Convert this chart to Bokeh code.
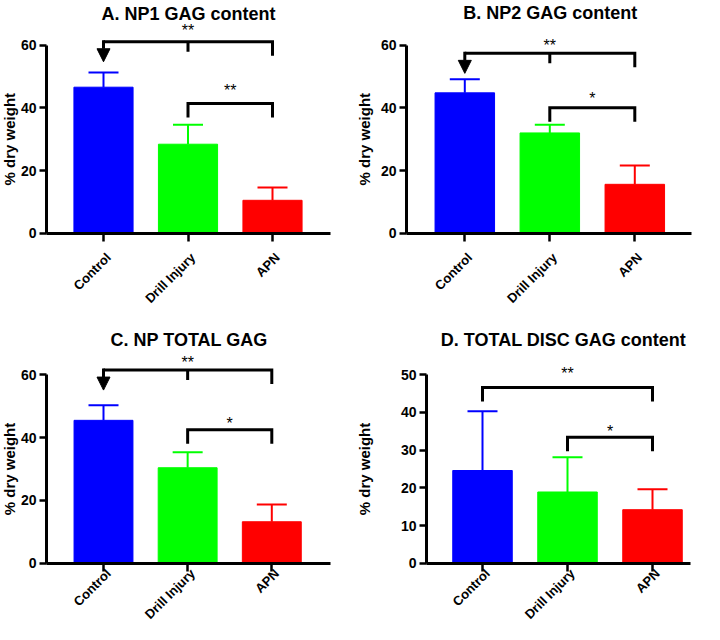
import math
from bokeh.plotting import figure
from bokeh.layouts import column, row
from bokeh.models import Range1d, FixedTicker, Arrow, NormalHead
from bokeh.embed import file_html
from bokeh.resources import INLINE
from bokeh.core.properties import value

FONT = "Liberation Sans"

# ---------------- data ----------------
categories = ["Control", "Drill Injury", "APN"]
bar_colors = ["#0000FF", "#00FF00", "#FF0000"]

titles = ["A. NP1 GAG content", "B. NP2 GAG content",
          "C. NP TOTAL GAG", "D. TOTAL DISC GAG content"]
y_label = "% dry weight"

np1_mean = [46.6, 28.4, 10.5]
np1_sd = [4.7, 6.2, 4.1]
np2_mean = [44.8, 32.0, 15.6]
np2_sd = [4.3, 2.6, 6.0]
nptotal_mean = [45.5, 30.4, 13.2]
nptotal_sd = [4.8, 4.9, 5.5]
disc_mean = [24.6, 18.9, 14.2]
disc_sd = [15.7, 9.2, 5.4]

y_axis_max = [60, 60, 60, 50]
y_tick_step = [20, 20, 20, 10]

# significance brackets: (from group, to group, bracket level, star level, label)
brackets_A = [(0, 2, 61.1, 67.5, "**"), (1, 2, 41.4, 48.4, "**")]
brackets_B = [(0, 2, 57.4, 62.7, "**"), (1, 2, 40.0, 46.0, "*")]
brackets_C = [(0, 2, 61.5, 66.8, "**"), (1, 2, 42.5, 47.3, "*")]
brackets_D = [(0, 2, 46.6, 52.8, "**"), (1, 2, 33.4, 37.3, "*")]
arrow_to_control = [True, True, True, False]

# ---------------- layout (pixels inside each figure) ----------------
W, H = 352, 312
# axis left, axis right, first tick px, last tick px, zero line px, px per unit,
# title centre px, title baseline px, y-label centre px, category label drop px
geoms = [
    (46, 330, 103.0, 272.0, 232.7, 3.1333, 188.0, 13.0, 9.0, 22.0),
    (54, 339, 112.3, 282.3, 232.7, 3.1333, 197.7, 12.5, 12.0, 22.0),
    (46, 330, 103.0, 271.3, 250.7, 3.14, 188.7, 27.3, 9.0, 8.0),
    (74, 338, 130.0, 300.0, 250.7, 3.768, 211.0, 27.3, 12.0, 8.0),
]


def build(k, means, sds, brackets):
    fl, fr, t0, t2, y0, sy, tx, tb, ylx, cdrop = geoms[k]
    sx = (t2 - t0) / 2.0

    def dx(px):
        return (px - t0) / sx

    def dy(py):
        return (y0 - py) / sy

    p = figure(width=W, height=H, x_range=Range1d(dx(0), dx(W)),
               y_range=Range1d(dy(H), dy(0)), output_backend="svg",
               toolbar_location=None, min_border=0)
    p.outline_line_color = None
    p.xgrid.visible = False
    p.ygrid.visible = False
    p.background_fill_color = "white"
    p.border_fill_color = "white"

    xs = [0, 1, 2]
    # bars
    p.vbar(x=xs, top=means, bottom=0, width=0.7, fill_color=bar_colors,
           line_color=bar_colors, line_width=1)
    # error bars (upper only)
    tops = [m + s for m, s in zip(means, sds)]
    capw = 15.0 / sx
    p.segment(x0=xs, y0=means, x1=xs, y1=tops, line_color=bar_colors, line_width=2)
    p.segment(x0=[x - capw for x in xs], y0=tops, x1=[x + capw for x in xs],
              y1=tops, line_color=bar_colors, line_width=2)

    # y axis
    ymax = y_axis_max[k]
    ya = p.yaxis[0]
    ya.fixed_location = dx(fl)
    ya.bounds = (0, ymax)
    ya.ticker = FixedTicker(ticks=list(range(0, ymax + 1, y_tick_step[k])))
    ya.axis_line_width = 3
    ya.major_tick_line_width = 2.5
    ya.major_tick_out = 7
    ya.major_tick_in = 0
    ya.minor_tick_out = 0
    ya.minor_tick_in = 0
    ya.major_label_standoff = 3
    ya.major_label_text_font = FONT
    ya.major_label_text_font_style = "bold"
    ya.major_label_text_font_size = "14px"
    ya.major_label_text_color = "black"

    # x axis (categories)
    xa = p.xaxis[0]
    xa.fixed_location = 0
    xa.bounds = (dx(fl), dx(fr))
    xa.ticker = FixedTicker(ticks=xs)
    xa.major_label_overrides = {i: "" for i in xs}
    xa.axis_line_width = 3
    xa.major_tick_line_width = 2.5
    xa.major_tick_out = 8
    xa.major_tick_in = 0
    xa.minor_tick_out = 0
    xa.minor_tick_in = 0

    # category labels, rotated 45 degrees, ending under each tick
    p.text(x=[x + 5.0 / sx for x in xs], y=[-cdrop / sy] * 3, text=categories,
           angle=math.pi / 4, text_align="right", text_baseline="middle",
           text_font=value(FONT), text_font_style="bold", text_font_size="13px",
           text_color="black")

    # y axis label
    p.text(x=[dx(ylx)], y=[ymax / 2.0], text=[y_label], angle=math.pi / 2,
           text_align="center", text_baseline="middle", text_font=value(FONT),
           text_font_style="bold", text_font_size="15px", text_color="black")
    # title
    p.text(x=[dx(tx)], y=[dy(tb)], text=[titles[k]], text_align="center",
           text_baseline="alphabetic", text_font=value(FONT),
           text_font_style="bold", text_font_size="18px", text_color="black")

    # significance brackets
    drop = 14.0 / sy
    mid = 10.0 / sy
    tip = 20.0 / sy
    star_x, star_y, star_t = [], [], []
    for n, (a, b, lvl, sl, lab) in enumerate(brackets):
        if n == 0 and arrow_to_control[k]:
            p.line(x=[a, b, b], y=[lvl, lvl, lvl - drop], line_color="black",
                   line_width=3, line_join="miter")
            p.segment(x0=[1], y0=[lvl], x1=[1], y1=[lvl - mid], line_color="black",
                      line_width=3)
            p.add_layout(Arrow(end=NormalHead(size=13, fill_color="black",
                                              line_color="black", line_width=1),
                               x_start=a, y_start=lvl + 1.5 / sy, x_end=a,
                               y_end=lvl - tip, line_color="black", line_width=3))
        else:
            p.line(x=[a, a, b, b], y=[lvl - drop, lvl, lvl, lvl - drop],
                   line_color="black", line_width=3, line_join="miter")
        star_x.append((a + b) / 2.0)
        star_y.append(sl - 9.0 / sy)
        star_t.append(lab)
    p.text(x=star_x, y=star_y, text=star_t, text_align="center",
           text_baseline="alphabetic", text_font=value(FONT),
           text_font_size="16px", text_color="black")
    return p


pA = build(0, np1_mean, np1_sd, brackets_A)
pB = build(1, np2_mean, np2_sd, brackets_B)
pC = build(2, nptotal_mean, nptotal_sd, brackets_C)
pD = build(3, disc_mean, disc_sd, brackets_D)

layout = column(row(pA, pB), row(pC, pD))
open("out.html", "w").write(file_html(layout, INLINE))
